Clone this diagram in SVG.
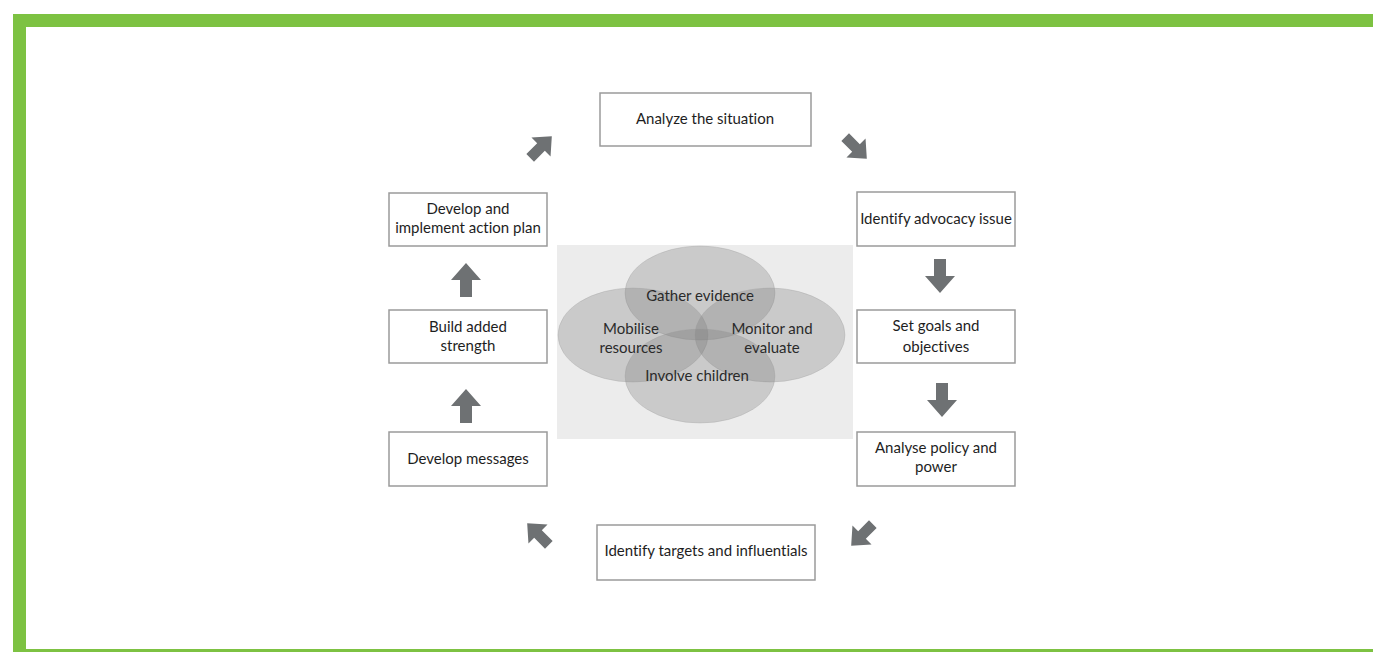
<svg xmlns="http://www.w3.org/2000/svg" width="1373" height="652" viewBox="0 0 1373 652">
<style>
.box{fill:#fff;stroke:#9a9a9a;stroke-width:1.5}
.t{font-family:Lato,"Open Sans",sans-serif;font-size:15px;fill:#1e1e1e;text-anchor:middle;font-variant-ligatures:none}
.c{font-family:Lato,"Open Sans",sans-serif;font-size:15px;fill:#2a2a2a;text-anchor:middle;font-variant-ligatures:none}
.ell{fill:#7a7a7a;fill-opacity:0.3;stroke:#9a9a9a;stroke-opacity:0.3}
.arr{fill:#6e7173}
</style>
<defs>
<path id="arrow" d="M0,-17 L15,0 L6,0 L6,17 L-6,17 L-6,0 L-15,0 Z"/>
</defs>
<rect width="1373" height="652" fill="#fff"/>
<g id="frame" fill="#7dc242">
<rect x="13" y="14" width="1360" height="13"/>
<rect x="13" y="14" width="13" height="638"/>
<rect x="13" y="649" width="1360" height="3"/>
</g>
<g id="center">
<rect x="557" y="245" width="296" height="194" fill="#ececec"/>
<ellipse class="ell" cx="700" cy="293" rx="75" ry="47"/>
<ellipse class="ell" cx="633" cy="335" rx="75" ry="47"/>
<ellipse class="ell" cx="770" cy="335" rx="75" ry="47"/>
<ellipse class="ell" cx="700" cy="376" rx="75" ry="47"/>
<text class="c" x="700" y="301">Gather evidence</text>
<text class="c" x="631" y="334">Mobilise</text>
<text class="c" x="631" y="353">resources</text>
<text class="c" x="772" y="334">Monitor and</text>
<text class="c" x="772" y="353">evaluate</text>
<text class="c" x="697" y="381">Involve children</text>
</g>
<g id="n1"><rect class="box" x="600" y="93" width="211" height="53"/><text class="t" x="705" y="124">Analyze the situation</text></g>
<g id="n2"><rect class="box" x="857" y="192" width="158" height="54"/><text class="t" x="936" y="224">Identify advocacy issue</text></g>
<g id="n3"><rect class="box" x="857" y="310" width="158" height="53"/><text class="t" x="936" y="331">Set goals and</text><text class="t" x="936" y="352">objectives</text></g>
<g id="n4"><rect class="box" x="857" y="432" width="158" height="54"/><text class="t" x="936" y="453">Analyse policy and</text><text class="t" x="936" y="472">power</text></g>
<g id="n5"><rect class="box" x="597" y="525" width="218" height="55"/><text class="t" x="706" y="556">Identify targets and influentials</text></g>
<g id="n6"><rect class="box" x="389" y="432" width="158" height="54"/><text class="t" x="468" y="464">Develop messages</text></g>
<g id="n7"><rect class="box" x="389" y="310" width="158" height="53"/><text class="t" x="468" y="332">Build added</text><text class="t" x="468" y="351">strength</text></g>
<g id="n8"><rect class="box" x="389" y="193" width="158" height="53"/><text class="t" x="468" y="214">Develop and</text><text class="t" x="468" y="233">implement action plan</text></g>
<g id="connectors" class="arr">
<use href="#arrow" transform="translate(856,148) rotate(135) scale(0.9)"/>
<use href="#arrow" transform="translate(940,276) rotate(180)"/>
<use href="#arrow" transform="translate(942,400) rotate(180)"/>
<use href="#arrow" transform="translate(862,535) rotate(225) scale(0.9)"/>
<use href="#arrow" transform="translate(538,534) rotate(-45) scale(0.9)"/>
<use href="#arrow" transform="translate(466,406)"/>
<use href="#arrow" transform="translate(466,280)"/>
<use href="#arrow" transform="translate(541,147) rotate(45) scale(0.9)"/>
</g>
</svg>
